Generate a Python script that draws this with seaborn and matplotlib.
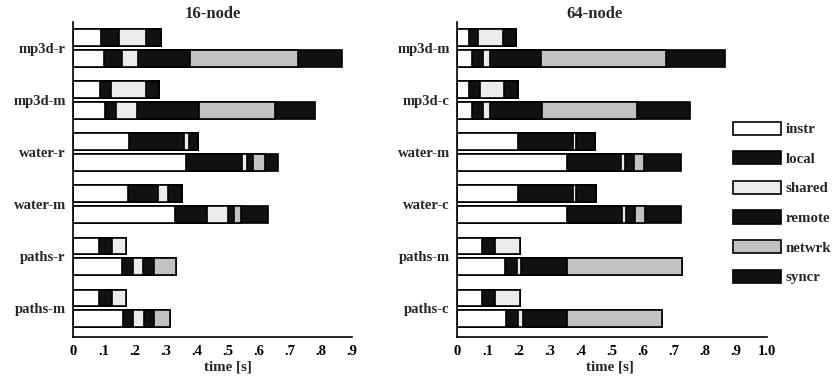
import matplotlib
matplotlib.use("Agg")
import matplotlib.pyplot as plt
import matplotlib.transforms as mtransforms
from matplotlib.patches import Patch
import pandas as pd
import seaborn as sns

# categories
groups_16 = ["mp3d-r", "mp3d-m", "water-r", "water-m", "paths-r", "paths-m"]
groups_64 = ["mp3d-m", "mp3d-c", "water-m", "water-c", "paths-m", "paths-c"]
bars = ["upper", "lower"]
segments = ["instr", "local", "shared", "remote", "netwrk", "syncr"]

# times [s], per group: upper bar, lower bar
instr_16 = [.091, .101, .088, .105, .183, .364, .179, .330, .086, .159, .086, .161]
local_16 = [.058, .059, .036, .035, .177, .183, .097, .102, .040, .034, .040, .035]
shared_16 = [.087, .052, .112, .068, .015, .015, .032, .070, .045, .035, .045, .034]
remote_16 = [.048, .166, .043, .199, .030, .021, .046, .018, 0, .034, 0, .032]
netwrk_16 = [0, .348, 0, .247, 0, .037, 0, .022, 0, .070, 0, .052]
syncr_16 = [0, .142, 0, .127, 0, .043, 0, .087, 0, 0, 0, 0]

instr_64 = [.040, .050, .040, .050, .197, .357, .197, .357, .083, .156, .083, .158]
local_64 = [.027, .034, .035, .036, .177, .173, .177, .175, .041, .040, .041, .039]
shared_64 = [.081, .023, .079, .021, .011, .013, .011, .013, .080, .012, .080, .018]
remote_64 = [.043, .164, .045, .167, .061, .030, .063, .030, 0, .149, 0, .142]
netwrk_64 = [0, .404, 0, .309, 0, .031, 0, .032, 0, .371, 0, .304]
syncr_64 = [0, .191, 0, .170, 0, .119, 0, .116, 0, 0, 0, 0]

xticklabels_16 = ["0", ".1", ".2", ".3", ".4", ".5", ".6", ".7", ".8", ".9"]
xticklabels_64 = ["0", ".1", ".2", ".3", ".4", ".5", ".6", ".7", ".8", ".9", "1.0"]

colors = {"instr": "white", "local": "#111111", "shared": "#ececec",
          "remote": "#111111", "netwrk": "#c2c2c2", "syncr": "#111111"}

sns.set_theme(style="white")
plt.rcParams["font.family"] = ["Liberation Serif", "DejaVu Serif"]
plt.rcParams["font.weight"] = "bold"


def make_df(groups, cols):
    df = pd.DataFrame({
        "group": [g for g in groups for _ in bars],
        "bar": bars * len(groups),
    })
    for name, vals in zip(segments, cols):
        df[name] = vals
    cum = df[segments].cumsum(axis=1)
    for name in segments:
        df["end_" + name] = cum[name]
    return df


def draw(ax, df, xmax, ticklabels, title, title_x, xlabel_x):
    # stacked bars: draw cumulative ends from longest to shortest
    for name in reversed(segments):
        sns.barplot(data=df, y="group", x="end_" + name, hue="bar", hue_order=bars,
                    palette=[colors[name]] * 2, orient="h", width=0.8, gap=0.2,
                    edgecolor="black", linewidth=1.2, errorbar=None, legend=False,
                    ax=ax)
    ax.set_ylim(5.55, -0.5)
    ax.set_xlim(0, xmax)
    ax.set_xticks([i / 10 for i in range(len(ticklabels))])
    ax.set_xticklabels(ticklabels, fontsize=10.5, fontweight="bold")
    offset = mtransforms.ScaledTranslation(0.1, 0, ax.figure.dpi_scale_trans)
    for lab in ax.get_xticklabels():
        lab.set_transform(lab.get_transform() + offset)
    ax.tick_params(axis="x", direction="inout", length=7, width=1.2, pad=2, colors="black")
    ax.tick_params(axis="y", length=0, pad=5, labelsize=10.5)
    for lab in ax.get_yticklabels():
        lab.set_fontweight("bold")
    ax.set_ylabel("")
    ax.set_xlabel("time [s]", fontsize=10.8, fontweight="bold", labelpad=2, x=xlabel_x)
    ax.set_title(title, fontsize=12, fontweight="bold", pad=3, x=title_x)
    sns.despine(ax=ax)
    for s in ["left", "bottom"]:
        ax.spines[s].set_color("black")
        ax.spines[s].set_linewidth(1.2)


fig = plt.figure(figsize=(8.35, 3.92), dpi=100)
ax1 = fig.add_axes([0.0871, 0.1403, 0.334, 0.8036])
ax2 = fig.add_axes([0.547, 0.1403, 0.371, 0.8036])

df16 = make_df(groups_16, [instr_16, local_16, shared_16, remote_16, netwrk_16, syncr_16])
df64 = make_df(groups_64, [instr_64, local_64, shared_64, remote_64, netwrk_64, syncr_64])

draw(ax1, df16, 0.9, xticklabels_16, "16-node", 0.503, 0.557)
draw(ax2, df64, 1.0, xticklabels_64, "64-node", 0.446, 0.495)

handles = [Patch(facecolor=colors[s], edgecolor="black", linewidth=1.2) for s in segments]
fig.legend(handles, segments, loc="upper left", bbox_to_anchor=(0.878, 0.69),
           frameon=False, prop={"size": 10.7, "weight": "bold"}, handlelength=3.2,
           handleheight=1.0, labelspacing=1.0, handletextpad=0.35, borderpad=0,
           borderaxespad=0)

fig.savefig("out.png", dpi=100)
